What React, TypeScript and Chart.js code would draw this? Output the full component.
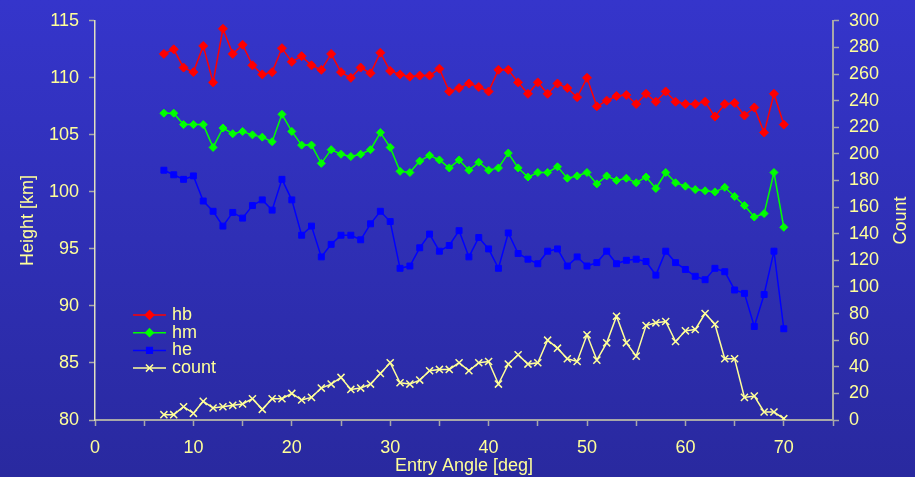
import React, { useEffect, useRef } from 'react';
import { Chart, registerables } from 'chart.js';

Chart.register(...registerables);

const angles = [7, 8, 9, 10, 11, 12, 13, 14, 15, 16, 17, 18, 19, 20, 21, 22, 23, 24, 25, 26, 27, 28, 29, 30, 31, 32, 33, 34, 35, 36, 37, 38, 39, 40, 41, 42, 43, 44, 45, 46, 47, 48, 49, 50, 51, 52, 53, 54, 55, 56, 57, 58, 59, 60, 61, 62, 63, 64, 65, 66, 67, 68, 69, 70];

const hb = [112.1, 112.5, 110.9, 110.5, 112.8, 109.6, 114.3, 112.1, 112.9, 111.1, 110.3, 110.5, 112.6, 111.4, 111.9, 111.1, 110.7, 112.1, 110.5, 110.0, 110.9, 110.4, 112.2, 110.6, 110.3, 110.1, 110.2, 110.2, 110.8, 108.8, 109.1, 109.5, 109.2, 108.8, 110.7, 110.7, 109.6, 108.6, 109.6, 108.6, 109.5, 109.1, 108.3, 110.0, 107.5, 108.0, 108.4, 108.5, 107.7, 108.6, 107.9, 108.8, 107.9, 107.7, 107.7, 107.9, 106.6, 107.7, 107.8, 106.7, 107.4, 105.2, 108.6, 105.9];

const hm = [106.9, 106.9, 105.9, 105.9, 105.9, 103.9, 105.6, 105.1, 105.3, 105.0, 104.8, 104.4, 106.8, 105.3, 104.1, 104.1, 102.5, 103.7, 103.3, 103.1, 103.3, 103.7, 105.2, 103.9, 101.8, 101.7, 102.7, 103.2, 102.8, 102.1, 102.8, 101.9, 102.6, 101.9, 102.1, 103.4, 102.1, 101.3, 101.7, 101.7, 102.2, 101.2, 101.4, 101.7, 100.7, 101.4, 101.0, 101.2, 100.8, 101.3, 100.3, 101.7, 100.8, 100.5, 100.2, 100.1, 100.0, 100.4, 99.6, 98.8, 97.8, 98.1, 101.7, 96.9];

const he = [101.9, 101.5, 101.1, 101.4, 99.2, 98.3, 97.0, 98.2, 97.7, 98.8, 99.3, 98.4, 101.1, 99.3, 96.2, 97.0, 94.3, 95.4, 96.2, 96.2, 95.8, 97.2, 98.3, 97.4, 93.3, 93.5, 95.1, 96.3, 94.8, 95.3, 96.6, 94.3, 96.0, 95.0, 93.3, 96.4, 94.6, 94.1, 93.7, 94.8, 95.0, 93.5, 94.3, 93.5, 93.8, 94.8, 93.7, 94.0, 94.1, 93.9, 92.7, 94.8, 93.8, 93.2, 92.6, 92.3, 93.3, 93.0, 91.4, 91.1, 88.2, 91.0, 94.8, 88.0];

const count = [4, 4, 10, 5, 14, 9, 10, 11, 12, 16, 8, 16, 16, 20, 15, 17, 24, 27, 32, 23, 24, 27, 35, 43, 28, 27, 30, 37, 38, 38, 43, 37, 43, 44, 27, 42, 49, 42, 43, 60, 54, 46, 44, 64, 45, 58, 78, 58, 48, 71, 73, 74, 59, 67, 68, 80, 72, 46, 46, 17, 18, 6, 6, 1];

const xTickLabels = ['0', '10', '20', '30', '40', '50', '60', '70'];

const TEXT = '#FFFF99';
const AXIS_GRAY = '#A8A8A8';
const FONT_FAMILY = 'Arial, "Liberation Sans", sans-serif';

const seriesStyles = [
  { label: 'hb', color: '#FF0000', pointStyle: 'rectRot', radius: 4.5 },
  { label: 'hm', color: '#00FF00', pointStyle: 'rectRot', radius: 4 },
  { label: 'he', color: '#0000FF', pointStyle: 'rect', radius: 4.2 },
  { label: 'count', color: '#FFFF99', pointStyle: 'crossRot', radius: 5 },
];

function drawMarker(ctx: CanvasRenderingContext2D, style: string, r: number, x: number, y: number, color: string) {
  ctx.save();
  ctx.fillStyle = color;
  ctx.strokeStyle = color;
  ctx.lineWidth = 1.2;
  ctx.beginPath();
  if (style === 'rectRot') {
    ctx.moveTo(x, y - r);
    ctx.lineTo(x + r, y);
    ctx.lineTo(x, y + r);
    ctx.lineTo(x - r, y);
    ctx.closePath();
    ctx.fill();
    ctx.stroke();
  } else if (style === 'rect') {
    const h = r * Math.SQRT1_2;
    ctx.rect(x - h, y - h, 2 * h, 2 * h);
    ctx.fill();
    ctx.stroke();
  } else {
    const h = r * Math.SQRT1_2;
    ctx.lineWidth = 1.5;
    ctx.moveTo(x - h, y - h);
    ctx.lineTo(x + h, y + h);
    ctx.moveTo(x + h, y - h);
    ctx.lineTo(x - h, y + h);
    ctx.stroke();
  }
  ctx.restore();
}

const overlayPlugin = {
  id: 'overlay',
  afterDraw(chart: any) {
    const ctx: CanvasRenderingContext2D = chart.ctx;
    const area = chart.chartArea;
    ctx.save();
    ctx.font = `18px ${FONT_FAMILY}`;
    ctx.fillStyle = TEXT;
    ctx.textAlign = 'center';
    ctx.textBaseline = 'middle';
    ctx.translate(chart.width - 14, (area.top + area.bottom) / 2);
    ctx.rotate(-Math.PI / 2);
    ctx.fillText('Count', 0, 0);
    ctx.restore();

    // legend inside plot area
    const x0 = area.left + 38;
    const x1 = area.left + 71;
    const textX = area.left + 77;
    const yStart = area.bottom - 105;
    const rowH = 17.7;
    seriesStyles.forEach((s, i) => {
      const y = yStart + i * rowH;
      ctx.save();
      ctx.strokeStyle = s.color;
      ctx.lineWidth = 1.5;
      ctx.beginPath();
      ctx.moveTo(x0, y);
      ctx.lineTo(x1, y);
      ctx.stroke();
      ctx.restore();
      drawMarker(ctx, s.pointStyle, s.radius, (x0 + x1) / 2, y, s.color);
      ctx.save();
      ctx.font = `18px ${FONT_FAMILY}`;
      ctx.fillStyle = TEXT;
      ctx.textAlign = 'left';
      ctx.textBaseline = 'middle';
      ctx.fillText(s.label, textX, y);
      ctx.restore();
    });
  },
};

export default function App() {
  const ref = useRef<HTMLCanvasElement>(null);

  useEffect(() => {
    document.body.style.margin = '0';
    const series = [hb, hm, he, count];
    const datasets = seriesStyles.map((s, i) => ({
      label: s.label,
      data: angles.map((a, j) => ({ x: a, y: series[i][j] })),
      borderColor: s.color,
      backgroundColor: s.color,
      pointBackgroundColor: s.color,
      pointBorderColor: s.color,
      pointStyle: s.pointStyle as any,
      pointRadius: s.radius,
      pointBorderWidth: i === 3 ? 1.5 : 1,
      borderWidth: 1.5,
      tension: 0,
      yAxisID: i === 3 ? 'y1' : 'y',
    }));

    const chart = new Chart(ref.current!, {
      type: 'line',
      data: { datasets },
      options: {
        animation: false,
        responsive: false,
        devicePixelRatio: 1,
        layout: { padding: { top: 18, left: 0, right: 0, bottom: 0 } },
        plugins: { legend: { display: false }, tooltip: { enabled: false } },
        scales: {
          x: {
            type: 'linear',
            position: 'bottom',
            min: 0,
            max: 75,
            afterFit: (s: any) => { s.height = 57; },
            ticks: {
              stepSize: 5,
              autoSkip: false,
              maxRotation: 0,
              color: TEXT,
              font: { size: 18, family: FONT_FAMILY },
              padding: 11,
              callback: (v: any) => (xTickLabels.includes(String(v)) ? String(v) : ''),
            },
            grid: { drawOnChartArea: false, drawTicks: true, tickLength: 6, color: AXIS_GRAY, tickWidth: 1.5 },
            border: { color: AXIS_GRAY, width: 2 },
            title: {
              display: true,
              text: 'Entry Angle [deg]',
              color: TEXT,
              font: { size: 18, family: FONT_FAMILY },
              padding: { top: 0, bottom: 0 },
            },
          },
          y: {
            position: 'left',
            min: 80,
            max: 115,
            afterFit: (s: any) => { s.width = 95; },
            ticks: { stepSize: 5, color: TEXT, font: { size: 18, family: FONT_FAMILY }, padding: 10 },
            grid: { drawOnChartArea: false, drawTicks: true, tickLength: 6, color: AXIS_GRAY, tickWidth: 1.5 },
            border: { color: '#E0E0C0', width: 1.5 },
            title: {
              display: true,
              text: 'Height [km]',
              color: TEXT,
              font: { size: 18, family: FONT_FAMILY },
              padding: { top: 17, bottom: 0 },
            },
          },
          y1: {
            position: 'right',
            min: 0,
            max: 300,
            afterFit: (s: any) => { s.width = 82; },
            ticks: { stepSize: 20, color: TEXT, font: { size: 18, family: FONT_FAMILY }, padding: 10 },
            grid: { drawOnChartArea: false, drawTicks: true, tickLength: 6, color: AXIS_GRAY, tickWidth: 1.5 },
            border: { color: AXIS_GRAY, width: 2 },
          },
        },
      },
      plugins: [overlayPlugin],
    });
    return () => chart.destroy();
  }, []);

  return (
    <div
      style={{
        position: 'fixed',
        left: 0,
        top: 0,
        width: 915,
        height: 477,
        background: 'linear-gradient(to bottom, #3535CB, #29299F)',
      }}
    >
      <canvas ref={ref} width={915} height={477} style={{ display: 'block' }} />
    </div>
  );
}
